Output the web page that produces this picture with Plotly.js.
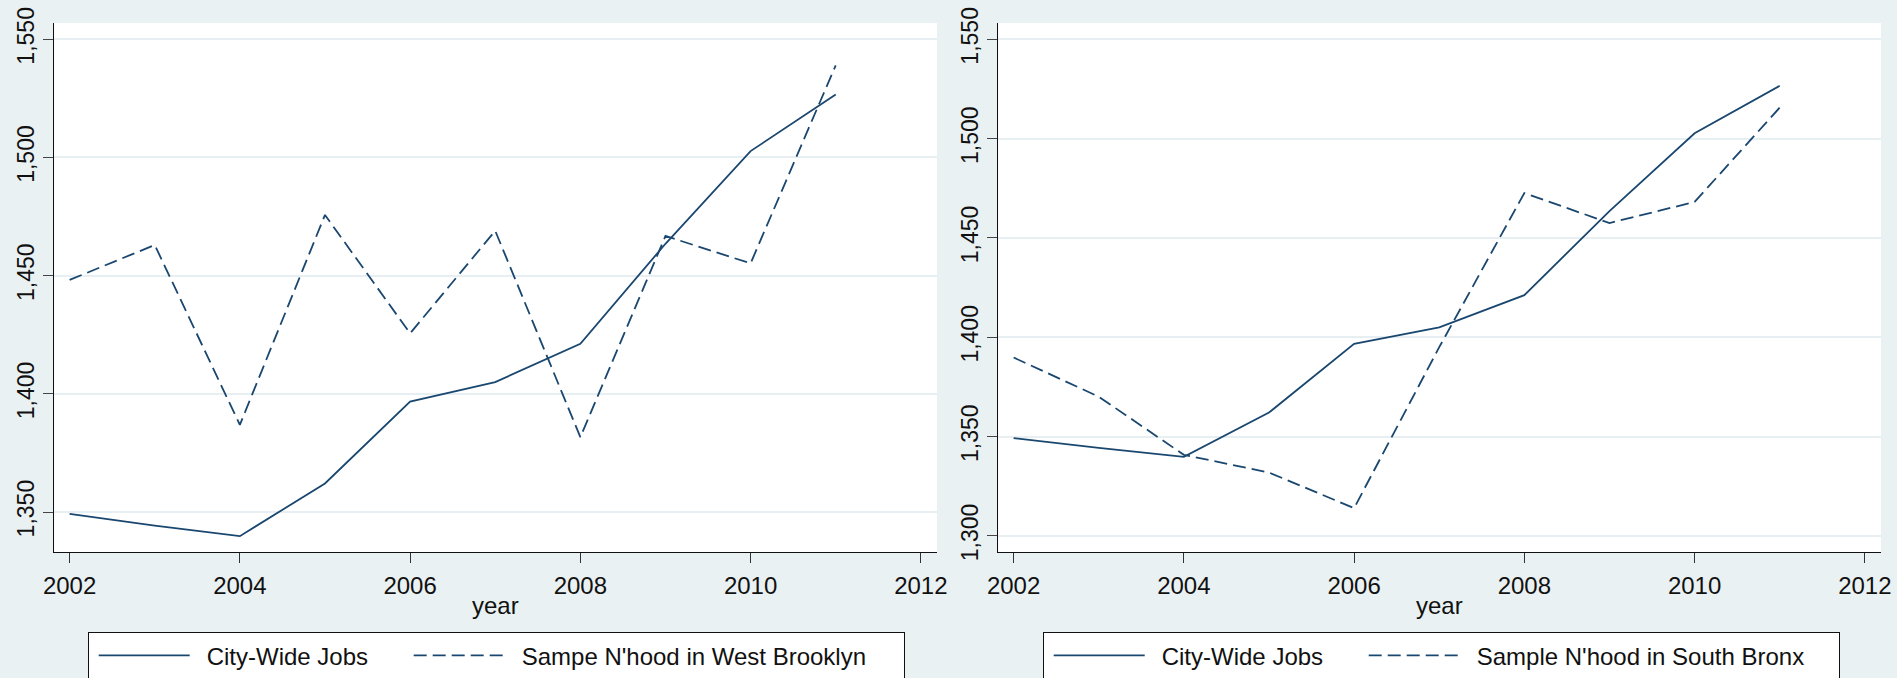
<!DOCTYPE html>
<html>
<head>
    <title>City-Wide Jobs vs Sample Neighbourhoods</title>
    <script src="https://cdn.plot.ly/plotly-3.0.1.min.js"></script>
    <style>
        body { margin: 0; background-color: #eaf1f3; }
        #chart { width: 1897px; height: 678px; }
    </style>
</head>
<body>
    <div id="chart"></div>

    <script>
        // values
        const years = [2002, 2003, 2004, 2005, 2006, 2007, 2008, 2009, 2010, 2011];
        const cityWide = [1349.2, 1344.3, 1339.8, 1362.1, 1396.7, 1405.0, 1421.2, 1463.5, 1502.7, 1526.6];
        const westBrooklyn = [1448.2, 1463.0, 1386.9, 1475.7, 1425.6, 1469.0, 1381.7, 1466.8, 1455.2, 1539.0];
        const southBronx = [1389.8, 1370.1, 1340.8, 1331.9, 1314.0, 1395.0, 1472.6, 1457.5, 1468.1, 1515.6];

        const navy = '#1a476f';
        const font = 'Liberation Sans, Arial, sans-serif';
        const pad = '\u2002'; // small gap between legend symbol and text

        const traces = [
            {x: years, y: cityWide, name: pad + 'City-Wide Jobs', type: 'scatter', mode: 'lines',
             line: {color: navy, width: 1.8}, xaxis: 'x', yaxis: 'y', legend: 'legend', legendwidth: 204},
            {x: years, y: westBrooklyn, name: pad + "Sampe N'hood in West Brooklyn", type: 'scatter', mode: 'lines',
             line: {color: navy, width: 1.8, dash: '13px,6px'}, xaxis: 'x', yaxis: 'y', legend: 'legend', legendwidth: 389},
            {x: years, y: cityWide, name: pad + 'City-Wide Jobs', type: 'scatter', mode: 'lines',
             line: {color: navy, width: 1.8}, xaxis: 'x2', yaxis: 'y2', legend: 'legend2', legendwidth: 204},
            {x: years, y: southBronx, name: pad + "Sample N'hood in South Bronx", type: 'scatter', mode: 'lines',
             line: {color: navy, width: 1.8, dash: '13px,6px'}, xaxis: 'x2', yaxis: 'y2', legend: 'legend2', legendwidth: 369}
        ];

        const xCommon = {
            range: [2001.82, 2012.19], tick0: 2002, dtick: 2,
            ticks: 'outside', ticklen: 10, tickcolor: '#333', tickwidth: 1,
            ticklabelstandoff: 2,
            showline: true, linecolor: '#111', linewidth: 1.2,
            showgrid: false, zeroline: false,
            tickfont: {size: 24, color: '#111'}
        };
        const yCommon = {
            dtick: 50, tickformat: ',d', tickangle: -90,
            ticks: 'outside', ticklen: 10, tickcolor: '#444', tickwidth: 1,
            showline: true, linecolor: '#111', linewidth: 1.2,
            showgrid: true, gridcolor: '#e8eff2', gridwidth: 2, zeroline: false,
            tickfont: {size: 23, color: '#111'}
        };
        const legendCommon = {
            orientation: 'h', xanchor: 'left', yanchor: 'top', y: 0.0674,
            bgcolor: '#ffffff', bordercolor: '#111', borderwidth: 1,
            itemwidth: 91, indentation: 5,
            font: {family: font, size: 24, color: '#111'}
        };

        const xDomain1 = [0.02862, 0.49394];
        const xDomain2 = [0.52625, 0.99157];

        const layout = {
            width: 1897, height: 678,
            margin: {l: 0, r: 0, t: 0, b: 0, autoexpand: false},
            paper_bgcolor: '#eaf1f3', plot_bgcolor: '#ffffff',
            font: {family: font, color: '#111'},
            xaxis: Object.assign({domain: xDomain1, anchor: 'y'}, xCommon),
            yaxis: Object.assign({domain: [0.18584, 0.96608], range: [1333.1, 1556.9], anchor: 'x'}, yCommon),
            xaxis2: Object.assign({domain: xDomain2, anchor: 'y2'}, xCommon),
            yaxis2: Object.assign({domain: [0.18584, 0.96608], range: [1291.9, 1558.2], anchor: 'x2'}, yCommon),
            legend: Object.assign({x: 0.04623}, legendCommon),
            legend2: Object.assign({x: 0.54966}, legendCommon),
            // axis titles
            annotations: [xDomain1, xDomain2].map(d => ({
                text: 'year', xref: 'paper', yref: 'paper',
                x: (d[0] + d[1]) / 2, y: 0.1069, xanchor: 'center', yanchor: 'middle',
                showarrow: false, font: {size: 24, color: '#111'}
            }))
        };

        Plotly.newPlot('chart', traces, layout, {displayModeBar: false});
    </script>
</body>
</html>
